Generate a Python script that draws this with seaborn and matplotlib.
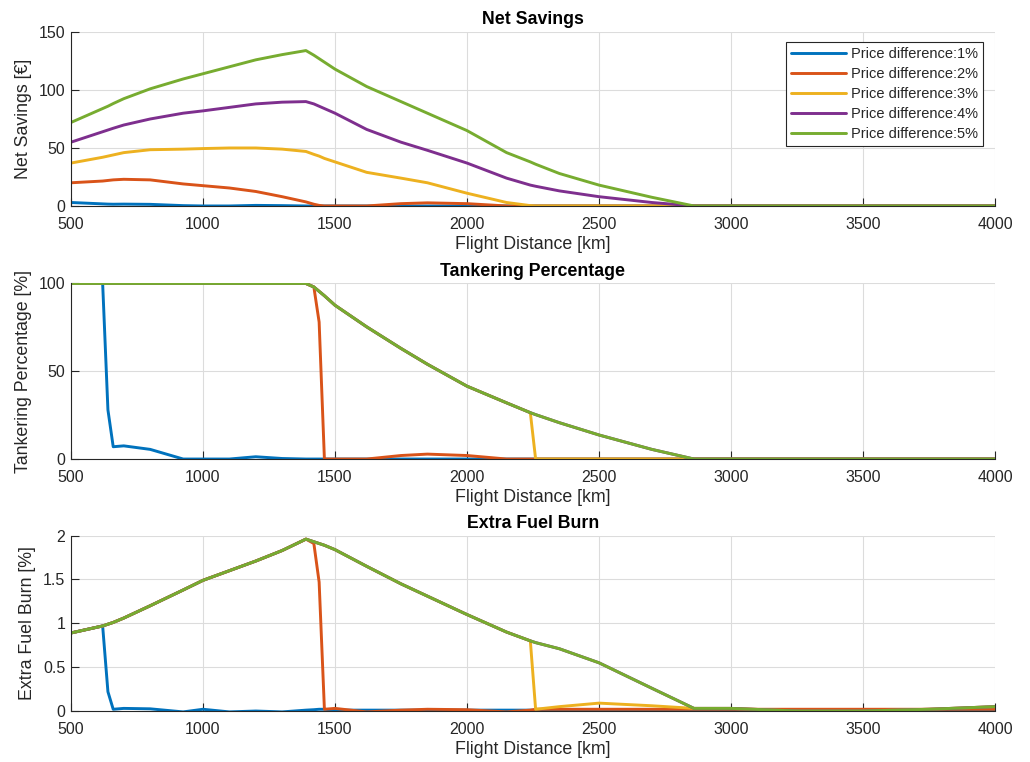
import matplotlib
matplotlib.use("Agg")
import matplotlib.pyplot as plt
import seaborn as sns
import pandas as pd

# ---------------- data ----------------
distance = [500, 620, 640, 660, 700, 800, 925, 1000, 1100, 1200, 1300, 1390,
            1420, 1440, 1460, 1500, 1620, 1750, 1850, 2000, 2150, 2240, 2260,
            2350, 2500, 2700, 2860, 3000, 3250, 3500, 3750, 4000]

series_names = ["Price difference:1%", "Price difference:2%", "Price difference:3%",
                "Price difference:4%", "Price difference:5%"]

# Net savings [EUR]
savings_1 = [3, 1.8, 1.6, 1.5, 1.6, 1.4, 0.3, 0, 0, 0.5, 0.3, 0,
             0, 0, 0, 0, 0, 0, 0, 0, 0, 0, 0,
             0, 0, 0, 0, 0, 0, 0, 0, 0]
savings_2 = [20, 21.5, 22, 22.5, 23, 22.5, 19, 17.5, 15.5, 12.5, 8, 3.5,
             1.5, 0.5, 0, 0, 0, 2, 2.7, 2, 0, 0, 0,
             0, 0, 0, 0, 0, 0, 0, 0, 0]
savings_3 = [37, 42, 43, 44, 46, 48.5, 49, 49.5, 50, 50, 49, 47,
             44.5, 43, 41, 38, 29, 24, 20, 11, 3, 0.3, 0,
             0, 0, 0, 0, 0, 0, 0, 0, 0]
savings_4 = [55, 64, 65.5, 67, 69.8, 75, 80, 82, 85, 88, 89.5, 90,
             88, 86, 84, 80, 66, 55, 48, 37, 24, 18, 17,
             13, 8, 3, 0, 0, 0, 0, 0, 0]
savings_5 = [72, 84, 86, 88.3, 92.5, 101, 109.5, 114, 120, 126, 130.5, 134,
             130, 127, 124, 118, 103, 90, 80, 65, 46, 38, 36,
             28, 18, 7.5, 0, 0, 0, 0, 0, 0]

# Tankering percentage [%]
tanker_1 = [100, 100, 28, 7, 7.5, 5.5, 0, 0, 0, 1.3, 0.3, 0,
            0, 0, 0, 0, 0, 0, 0, 0, 0, 0, 0,
            0, 0, 0, 0, 0, 0, 0, 0, 0]
tanker_2 = [100, 100, 100, 100, 100, 100, 100, 100, 100, 100, 100, 100,
            98, 78, 0, 0, 0, 2, 2.8, 2, 0, 0, 0,
            0, 0, 0, 0, 0, 0, 0, 0, 0]
tanker_3 = [100, 100, 100, 100, 100, 100, 100, 100, 100, 100, 100, 100,
            98, 95.5, 93, 87.6, 75.3, 63, 54, 41.5, 32, 26.4, 0,
            0, 0, 0, 0, 0, 0, 0, 0, 0]
tanker_4 = [100, 100, 100, 100, 100, 100, 100, 100, 100, 100, 100, 100,
            98, 95.5, 93, 87.6, 75.3, 63, 54, 41.5, 32, 26.4, 25.3,
            20.7, 13.7, 5.5, 0, 0, 0, 0, 0, 0]
tanker_5 = [100, 100, 100, 100, 100, 100, 100, 100, 100, 100, 100, 100,
            98, 95.5, 93, 87.6, 75.3, 63, 54, 41.5, 32, 26.4, 25.3,
            20.7, 13.7, 5.5, 0, 0, 0, 0, 0, 0]

# Extra fuel burn [%]
fuel_1 = [0.89, 0.97, 0.22, 0.02, 0.03, 0.025, -0.01, 0.02, -0.01, 0.0, -0.01, 0.01,
          0.015, 0.02, 0.02, 0.01, 0.01, 0.01, 0.01, 0.01, 0.01, 0.01, 0.01,
          0.01, 0.01, 0.01, 0.01, 0.01, 0.01, 0.01, 0.01, 0.01]
fuel_2 = [0.89, 0.97, 0.99, 1.01, 1.06, 1.2, 1.38, 1.49, 1.6, 1.71, 1.83, 1.96,
          1.91, 1.47, 0.02, 0.03, -0.01, 0.01, 0.02, 0.015, -0.01, 0.01, 0.02,
          0.02, 0.02, 0.02, 0.02, 0.02, 0.02, 0.02, 0.02, 0.02]
fuel_3 = [0.89, 0.97, 0.99, 1.01, 1.06, 1.2, 1.38, 1.49, 1.6, 1.71, 1.83, 1.96,
          1.93, 1.91, 1.89, 1.84, 1.65, 1.45, 1.31, 1.1, 0.9, 0.8, 0.02,
          0.05, 0.09, 0.06, 0.03, 0.03, 0.0, 0.0, 0.02, 0.05]
fuel_4 = [0.89, 0.97, 0.99, 1.01, 1.06, 1.2, 1.38, 1.49, 1.6, 1.71, 1.83, 1.96,
          1.93, 1.91, 1.89, 1.84, 1.65, 1.45, 1.31, 1.1, 0.9, 0.8, 0.78,
          0.71, 0.55, 0.26, 0.03, 0.03, 0.0, 0.0, 0.02, 0.05]
fuel_5 = [0.89, 0.97, 0.99, 1.01, 1.06, 1.2, 1.38, 1.49, 1.6, 1.71, 1.83, 1.96,
          1.93, 1.91, 1.89, 1.84, 1.65, 1.45, 1.31, 1.1, 0.9, 0.8, 0.78,
          0.71, 0.55, 0.26, 0.03, 0.03, 0.0, 0.0, 0.02, 0.05]

titles = ["Net Savings", "Tankering Percentage", "Extra Fuel Burn"]
ylabels = ["Net Savings [€]", "Tankering Percentage [%]", "Extra Fuel Burn [%]"]
xlabel = "Flight Distance [km]"
x_ticks = [500, 1000, 1500, 2000, 2500, 3000, 3500, 4000]
y_ticks = [[0, 50, 100, 150], [0, 50, 100], [0, 0.5, 1, 1.5, 2]]
y_ticklabels = [["0", "50", "100", "150"], ["0", "50", "100"], ["0", "0.5", "1", "1.5", "2"]]
y_limits = [(0, 150), (0, 100), (0, 2)]

colors = ["#0072BD", "#D95319", "#EDB120", "#7E2F8E", "#77AC30"]

panels = [
    [savings_1, savings_2, savings_3, savings_4, savings_5],
    [tanker_1, tanker_2, tanker_3, tanker_4, tanker_5],
    [fuel_1, fuel_2, fuel_3, fuel_4, fuel_5],
]

# ---------------- style ----------------
sns.set_theme(style="white")
plt.rcParams["font.family"] = ["Liberation Sans", "DejaVu Sans"]
plt.rcParams["axes.unicode_minus"] = False

TXT = "#262626"

fig = plt.figure(figsize=(10.3, 7.62), dpi=100)
rects = [
    [0.0689, 0.7297, 0.8971, 0.2283],
    [0.0689, 0.3976, 0.8971, 0.2304],
    [0.0689, 0.0669, 0.8971, 0.2302],
]

for i, (rect, series) in enumerate(zip(rects, panels)):
    ax = fig.add_axes(rect)
    rows = []
    for name, vals in zip(series_names, series):
        for d, v in zip(distance, vals):
            rows.append({"distance": d, "value": v, "series": name})
    df = pd.DataFrame(rows)
    sns.lineplot(data=df, x="distance", y="value", hue="series",
                 hue_order=series_names, palette=colors, sort=False,
                 estimator=None, linewidth=2.1, ax=ax, legend=(i == 0))

    ax.set_xlim(500, 4000)
    ax.set_ylim(*y_limits[i])
    ax.set_xticks(x_ticks)
    ax.set_xticklabels([str(t) for t in x_ticks])
    ax.set_yticks(y_ticks[i])
    ax.set_yticklabels(y_ticklabels[i])
    ax.grid(True, color="#dcdcdc", linewidth=0.8)
    ax.set_axisbelow(True)
    for side in ["top", "right"]:
        ax.spines[side].set_visible(False)
    for side in ["left", "bottom"]:
        ax.spines[side].set_color("#262626")
        ax.spines[side].set_linewidth(0.8)
    ax.tick_params(axis="both", which="both", direction="in", length=6,
                   width=0.8, color="#262626", labelsize=11.5, labelcolor=TXT,
                   bottom=True, left=True)
    ax.tick_params(axis="x", pad=8)
    ax.tick_params(axis="y", pad=4)
    ax.set_xlabel(xlabel, fontsize=12.8, color=TXT, labelpad=3)
    ax.set_ylabel(ylabels[i], fontsize=12.8, color=TXT, labelpad=5)
    ax.set_title(titles[i], fontsize=12.8, fontweight="bold", color="black", pad=5.5)

    if i == 0:
        leg = ax.legend(loc="upper right", bbox_to_anchor=(0.987, 0.943),
                        borderaxespad=0, fontsize=10.5, frameon=True,
                        fancybox=False, edgecolor="#262626", framealpha=1,
                        handlelength=3.8, handletextpad=0.35, labelspacing=0.42,
                        borderpad=0.33, title=None)
        leg.get_frame().set_linewidth(0.8)
        for t in leg.get_texts():
            t.set_color(TXT)

fig.savefig("out.png", dpi=100)
